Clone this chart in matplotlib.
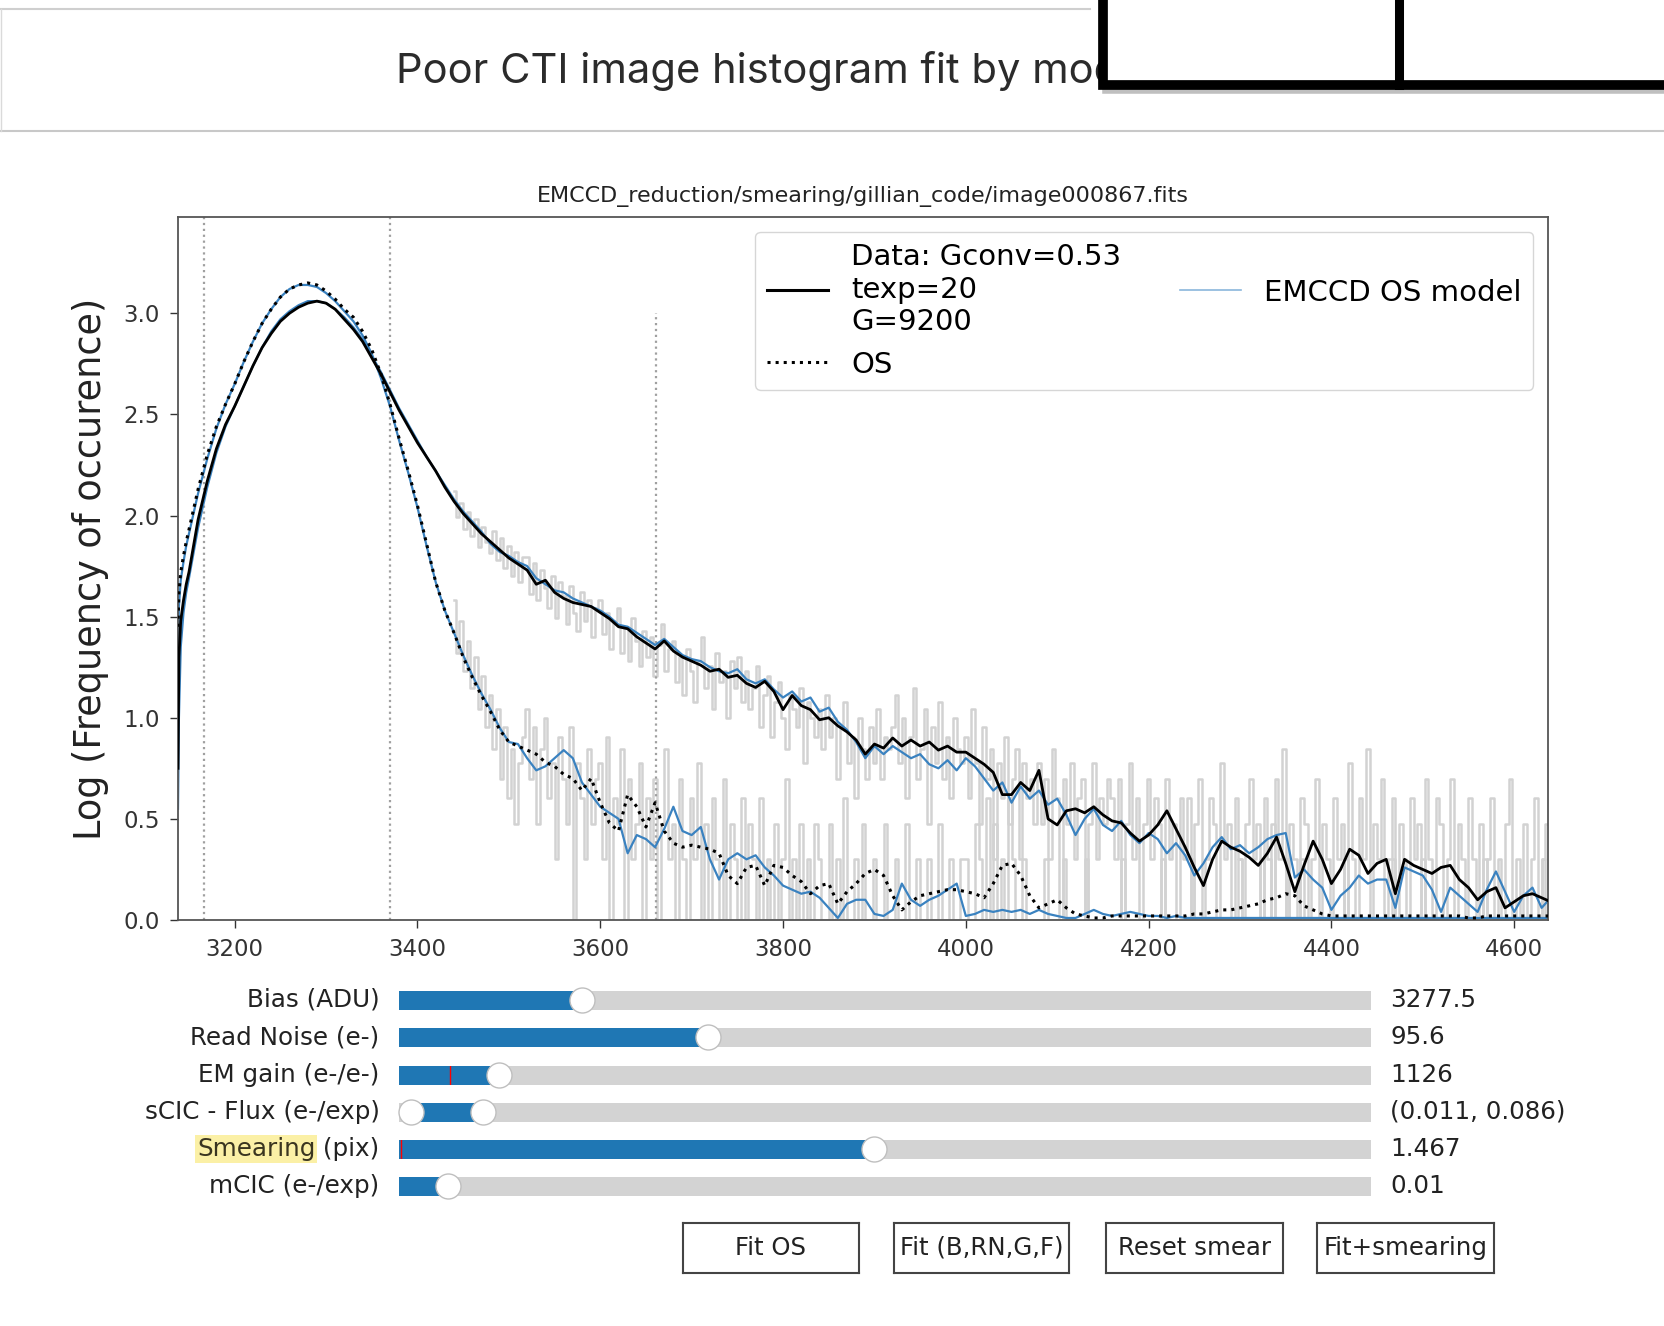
import numpy as np
import matplotlib
matplotlib.use("Agg")
import matplotlib.pyplot as plt
from matplotlib.widgets import Slider, RangeSlider, Button
from matplotlib.patches import Rectangle
from matplotlib.lines import Line2D

plt.rcParams["font.family"] = ["DejaVu Sans"]

# ---------------- text ----------------
page_title = "Poor CTI image histogram fit by mode"
axes_title = "EMCCD_reduction/smearing/gillian_code/image000867.fits"
y_label = "Log (Frequency of occurence)"
x_ticks = [3200, 3400, 3600, 3800, 4000, 4200, 4400, 4600]
y_ticks = [0.0, 0.5, 1.0, 1.5, 2.0, 2.5, 3.0]
x_limits = (3138, 4637)
y_limits = (0.0, 3.476)

# ---------------- smoothed curves (x in ADU, y = log10 counts) ----------------
curve_x = [3138, 3139, 3141, 3144, 3147] + list(range(3150, 4650, 10))

data_y = [0.75, 1.30, 1.48, 1.58, 1.66,
          1.72, 1.98, 2.17, 2.33, 2.45, 2.54, 2.64, 2.74, 2.83, 2.90,
          2.96, 3.00, 3.03, 3.05, 3.06, 3.05, 3.02, 2.97, 2.92, 2.86,
          2.78, 2.70, 2.61, 2.52, 2.44, 2.36, 2.29, 2.22, 2.14, 2.07,
          2.01, 1.96, 1.91, 1.87, 1.83, 1.79, 1.76, 1.73, 1.66, 1.68,
          1.62, 1.59, 1.57, 1.56, 1.55, 1.52, 1.49, 1.45, 1.44, 1.40,
          1.37, 1.34, 1.38, 1.33, 1.30, 1.28, 1.26, 1.23, 1.24, 1.20,
          1.21, 1.17, 1.15, 1.18, 1.13, 1.04, 1.11, 1.06, 1.04, 0.99,
          1.00, 0.96, 0.93, 0.89, 0.82, 0.87, 0.85, 0.90, 0.86, 0.89,
          0.86, 0.88, 0.84, 0.86, 0.83, 0.83, 0.80, 0.77, 0.73, 0.62,
          0.62, 0.68, 0.64, 0.74, 0.50, 0.47, 0.54, 0.55, 0.53, 0.56,
          0.52, 0.49, 0.48, 0.43, 0.39, 0.42, 0.47, 0.54, 0.45, 0.36,
          0.26, 0.17, 0.30, 0.39, 0.36, 0.34, 0.31, 0.27, 0.33, 0.41,
          0.28, 0.14, 0.27, 0.39, 0.30, 0.18, 0.25, 0.35, 0.32, 0.23,
          0.28, 0.30, 0.13, 0.30, 0.27, 0.25, 0.23, 0.26, 0.27, 0.20,
          0.16, 0.10, 0.14, 0.16, 0.06, 0.09, 0.12, 0.13, 0.11, 0.09]

data_model_y = [0.55, 1.00, 1.35, 1.52, 1.62,
                1.69, 1.94, 2.14, 2.31, 2.44, 2.54, 2.64, 2.74, 2.83, 2.91,
                2.97, 3.01, 3.04, 3.06, 3.06, 3.05, 3.02, 2.98, 2.93, 2.87,
                2.79, 2.71, 2.62, 2.53, 2.45, 2.37, 2.29, 2.22, 2.15, 2.08,
                2.02, 1.97, 1.92, 1.86, 1.82, 1.80, 1.77, 1.75, 1.69, 1.66,
                1.63, 1.62, 1.59, 1.57, 1.55, 1.53, 1.50, 1.46, 1.45, 1.42,
                1.39, 1.36, 1.39, 1.35, 1.31, 1.29, 1.28, 1.25, 1.23, 1.22,
                1.24, 1.19, 1.17, 1.19, 1.14, 1.10, 1.13, 1.08, 1.10, 1.03,
                1.05, 0.98, 0.94, 0.88, 0.80, 0.86, 0.82, 0.86, 0.83, 0.80,
                0.82, 0.77, 0.75, 0.79, 0.74, 0.80, 0.76, 0.70, 0.64, 0.68,
                0.58, 0.66, 0.60, 0.64, 0.57, 0.60, 0.52, 0.42, 0.50, 0.55,
                0.47, 0.44, 0.49, 0.42, 0.38, 0.43, 0.40, 0.33, 0.38, 0.32,
                0.22, 0.28, 0.36, 0.41, 0.35, 0.37, 0.33, 0.36, 0.40, 0.42,
                0.43, 0.21, 0.25, 0.20, 0.16, 0.05, 0.12, 0.16, 0.22, 0.18,
                0.20, 0.20, 0.06, 0.26, 0.24, 0.22, 0.15, 0.04, 0.16, 0.12,
                0.08, 0.04, 0.15, 0.24, 0.14, 0.04, 0.12, 0.16, 0.06, 0.11]

os_y = [1.45, 1.62, 1.72, 1.80, 1.87,
        1.93, 2.13, 2.30, 2.44, 2.55, 2.65, 2.76, 2.86, 2.95, 3.02,
        3.08, 3.12, 3.14, 3.15, 3.14, 3.11, 3.07, 3.02, 2.98, 2.91,
        2.82, 2.70, 2.55, 2.38, 2.22, 2.05, 1.86, 1.67, 1.53, 1.42,
        1.30, 1.20, 1.11, 1.03, 0.94, 0.88, 0.86, 0.84, 0.82, 0.78,
        0.76, 0.72, 0.70, 0.64, 0.70, 0.58, 0.48, 0.44, 0.62, 0.56,
        0.46, 0.58, 0.44, 0.38, 0.36, 0.37, 0.36, 0.35, 0.33, 0.22,
        0.18, 0.26, 0.27, 0.17, 0.27, 0.26, 0.22, 0.19, 0.13, 0.17,
        0.18, 0.08, 0.14, 0.18, 0.23, 0.25, 0.22, 0.12, 0.05, 0.09,
        0.12, 0.13, 0.14, 0.15, 0.15, 0.14, 0.13, 0.11, 0.18, 0.27,
        0.28, 0.22, 0.12, 0.06, 0.08, 0.10, 0.06, 0.03, 0.02, 0.01,
        0.01, 0.02, 0.02, 0.02, 0.02, 0.02, 0.02, 0.02, 0.02, 0.02,
        0.03, 0.03, 0.04, 0.05, 0.05, 0.06, 0.07, 0.08, 0.10, 0.11,
        0.13, 0.12, 0.07, 0.05, 0.03, 0.02, 0.02, 0.02, 0.02, 0.02,
        0.02, 0.02, 0.02, 0.02, 0.02, 0.02, 0.02, 0.02, 0.02, 0.02,
        0.01, 0.01, 0.02, 0.02, 0.02, 0.02, 0.02, 0.02, 0.02, 0.02]

os_model_y = [1.30, 1.55, 1.68, 1.77, 1.85,
              1.91, 2.11, 2.28, 2.43, 2.55, 2.65, 2.76, 2.86, 2.95, 3.02,
              3.08, 3.12, 3.14, 3.14, 3.13, 3.10, 3.06, 3.01, 2.96, 2.89,
              2.80, 2.68, 2.54, 2.37, 2.21, 2.04, 1.85, 1.67, 1.53, 1.42,
              1.31, 1.21, 1.12, 1.04, 0.95, 0.88, 0.87, 0.80, 0.74, 0.76,
              0.80, 0.84, 0.80, 0.68, 0.62, 0.56, 0.53, 0.50, 0.33, 0.42,
              0.40, 0.36, 0.45, 0.56, 0.44, 0.42, 0.46, 0.30, 0.20, 0.30,
              0.33, 0.30, 0.32, 0.26, 0.22, 0.17, 0.15, 0.13, 0.14, 0.11,
              0.06, 0.01, 0.08, 0.10, 0.10, 0.03, 0.02, 0.05, 0.18, 0.10,
              0.07, 0.10, 0.12, 0.15, 0.18, 0.02, 0.03, 0.05, 0.04, 0.05,
              0.04, 0.05, 0.03, 0.05, 0.03, 0.02, 0.01, 0.01, 0.03, 0.05,
              0.03, 0.02, 0.03, 0.04, 0.03, 0.02, 0.02, 0.01, 0.02, 0.01,
              0.01, 0.01, 0.01, 0.01, 0.01, 0.01, 0.01, 0.01, 0.01, 0.01,
              0.01, 0.01, 0.01, 0.01, 0.01, 0.01, 0.01, 0.01, 0.01, 0.01,
              0.01, 0.01, 0.01, 0.01, 0.01, 0.01, 0.01, 0.01, 0.01, 0.01,
              0.01, 0.01, 0.01, 0.01, 0.01, 0.01, 0.01, 0.01, 0.01, 0.01]

# ---------------- raw histograms (counts per 4-ADU bin) ----------------
raw_x = list(range(3440, 4640, 4))
raw_data_counts = [
    132, 98, 115, 86, 104, 79, 96, 70, 88, 74, 65, 84, 60, 77, 55, 71, 50, 66, 47, 62,
    62, 41, 58, 38, 54, 44, 35, 50, 31, 47, 40, 29, 45, 33, 27, 42, 30, 38, 25, 35,
    38, 26, 33, 22, 30, 35, 21, 28, 19, 31, 24, 18, 27, 20, 25, 16, 23, 29, 17, 22,
    24, 15, 20, 13, 22, 17, 12, 19, 25, 14, 18, 11, 21, 15, 17, 10, 19, 14, 20, 12,
    17, 11, 14, 18, 9, 13, 16, 8, 12, 15, 10, 7, 13, 11, 9, 14, 6, 12, 10, 8,
    11, 7, 13, 8, 10, 5, 9, 12, 6, 8, 4, 10, 7, 5, 9, 6, 11, 5, 8, 7,
    9, 13, 6, 10, 4, 8, 14, 5, 7, 11, 3, 9, 6, 12, 5, 8, 4, 10, 7, 6,
    8, 4, 11, 6, 3, 9, 5, 7, 2, 6, 4, 8, 3, 5, 7, 2, 6, 4, 5, 3,
    6, 3, 5, 2, 7, 4, 1, 5, 3, 6, 2, 4, 5, 1, 3, 6, 2, 4, 3, 5,
    4, 2, 5, 1, 3, 6, 2, 4, 1, 3, 5, 2, 4, 3, 1, 5, 2, 3, 1, 4,
    2, 4, 1, 3, 5, 1, 2, 4, 3, 1, 6, 2, 3, 1, 4, 2, 1, 3, 5, 2,
    3, 1, 4, 2, 1, 5, 2, 7, 1, 3, 2, 1, 4, 3, 1, 2, 5, 1, 3, 2,
    1, 4, 2, 3, 1, 6, 2, 1, 4, 2, 7, 1, 3, 2, 5, 1, 2, 4, 1, 3,
    2, 1, 4, 2, 3, 1, 5, 2, 1, 4, 3, 1, 2, 5, 1, 3, 2, 1, 4, 2,
    1, 3, 1, 2, 4, 1, 2, 1, 3, 5, 1, 2, 1, 3, 1, 2, 4, 1, 2, 3]
raw_os_counts = [
    38, 21, 30, 17, 24, 14, 20, 11, 16, 9, 13, 7, 11, 5, 9, 4, 7, 3, 6, 8,
    11, 5, 9, 3, 7, 10, 4, 6, 2, 8, 5, 3, 9, 1, 6, 4, 2, 7, 3, 5,
    6, 2, 8, 1, 4, 3, 7, 1, 5, 2, 3, 6, 1, 4, 2, 5, 1, 3, 7, 2,
    3, 1, 5, 2, 1, 4, 2, 6, 1, 3, 1, 4, 2, 1, 5, 1, 3, 2, 1, 4,
    1, 3, 2, 1, 4, 1, 2, 1, 3, 1, 2, 5, 1, 2, 1, 3, 1, 2, 1, 3,
    2, 1, 1, 3, 1, 2, 1, 4, 1, 1, 2, 1, 3, 1, 1, 2, 1, 1, 3, 1,
    1, 2, 1, 1, 3, 1, 1, 2, 1, 1, 2, 1, 1, 3, 1, 1, 2, 1, 1, 2,
    2, 1, 1, 3, 2, 1, 4, 1, 3, 1, 2, 1, 4, 2, 1, 1, 2, 1, 1, 1,
    1, 1, 2, 1, 1, 1, 1, 2, 1, 1, 1, 1, 1, 2, 1, 1, 1, 1, 1, 1,
    1, 1, 1, 2, 1, 1, 1, 1, 1, 1, 1, 1, 1, 1, 2, 1, 1, 1, 1, 1,
    1, 1, 2, 1, 1, 1, 1, 1, 1, 1, 1, 1, 1, 1, 1, 2, 1, 1, 1, 1,
    1, 2, 1, 1, 3, 1, 1, 1, 2, 1, 1, 1, 2, 1, 1, 1, 1, 1, 1, 1,
    1, 1, 1, 1, 2, 1, 1, 1, 1, 1, 1, 1, 1, 1, 1, 1, 1, 2, 1, 1,
    1, 1, 1, 1, 1, 2, 1, 1, 1, 1, 1, 1, 1, 1, 1, 1, 1, 1, 1, 1,
    1, 1, 2, 1, 1, 1, 1, 1, 1, 1, 1, 1, 1, 1, 1, 1, 1, 1, 2, 1]

# vertical markers
marker_x = [3166, 3370, 3661]
marker_top = [None, None, 3.0]

legend_labels = ["Data: Gconv=0.53\ntexp=20\nG=9200", "OS", "EMCCD OS model"]

# ---------------- widgets ----------------
slider_labels = ["Bias (ADU)", "Read Noise (e-)", "EM gain (e-/e-)",
                 "sCIC - Flux (e-/exp)", "Smearing (pix)", "mCIC (e-/exp)"]
slider_texts = ["3277.5", "95.6", "1126", "(0.011, 0.086)", "1.467", "0.01"]
slider_pos = [0.188, 0.318, 0.103, (0.012, 0.086), 0.489, 0.050]
slider_init = [0.188, 0.318, 0.052, None, 0.002, 0.050]
button_labels = ["Fit OS", "Fit (B,RN,G,F)", "Reset smear", "Fit+smearing"]

# ---------------- figure ----------------
W, H = 1665, 1326
fig = plt.figure(figsize=(W / 100, H / 100), dpi=100)
fig.patch.set_facecolor("white")


def rect(x0, y0, x1, y1):
    return [x0 / W, 1 - y1 / H, (x1 - x0) / W, (y1 - y0) / H]


# --- page header ---
fig.add_artist(Line2D([0, 1090 / W], [1 - 9 / H] * 2, color="#cfcfcf", lw=1.5))
fig.add_artist(Line2D([0, 1], [1 - 131 / H] * 2, color="#c8c8c8", lw=1.5))
fig.add_artist(Line2D([1 / W] * 2, [1 - 9 / H, 1 - 131 / H], color="#dadada", lw=1))
fig.text(396 / W, 1 - 83 / H, page_title, fontsize=30, family="Inter",
         color="#2b2b2b", va="baseline", ha="left", zorder=2)
fig.add_artist(Line2D([1105 / W, 1], [1 - 91 / H] * 2, color="#000000",
                      alpha=0.25, lw=4, zorder=4))
fig.add_artist(Rectangle((1103 / W, 1 - 85 / H), (1750 - 1103) / W, 140 / H,
                         transform=fig.transFigure, fc="white", ec="black",
                         lw=7, zorder=5))
fig.add_artist(Line2D([1399 / W] * 2, [1, 1 - 85 / H], color="black",
                      lw=6.5, zorder=6))

# --- main axes ---
ax = fig.add_axes(rect(178, 217, 1548, 920))
ax.plot(raw_x, np.log10(raw_os_counts), color="#d2d2d2", lw=1.8,
        drawstyle="steps-mid", zorder=1)
ax.plot(raw_x, np.log10(raw_data_counts), color="#d2d2d2", lw=1.8,
        drawstyle="steps-mid", zorder=1)
for mx, mt in zip(marker_x, marker_top):
    if mt is None:
        ax.axvline(mx, color="#a0a0a0", ls=":", lw=1.6, zorder=1.5)
    else:
        ax.vlines(mx, 0, mt, color="#a0a0a0", ls=":", lw=1.6, zorder=1.5)
ax.plot(curve_x, data_model_y, color="#3a82c0", lw=1.6, zorder=2)
ax.plot(curve_x, os_model_y, color="#3a82c0", lw=1.6, zorder=2)
ax.plot(curve_x, data_y, color="black", lw=2.0, zorder=3)
ax.plot(curve_x, os_y, color="black", ls=":", lw=2.2, zorder=3)

ax.set_xlim(*x_limits)
ax.set_ylim(*y_limits)
ax.set_xticks(x_ticks)
ax.set_yticks(y_ticks)
ax.set_yticklabels([f"{v:.1f}" for v in y_ticks])
ax.tick_params(labelsize=16.5, length=6, width=1, pad=7, colors="#333333")
for sp in ax.spines.values():
    sp.set_color("#555555")
    sp.set_linewidth(1.3)
ax.set_title(axes_title, fontsize=16, color="#222222", pad=11)
ax.set_ylabel(y_label, fontsize=26.4, color="#222222", labelpad=10)

handles = [Line2D([], [], color="black", lw=2.2),
           Line2D([], [], color="black", ls=":", lw=2.2),
           Line2D([], [], color="#8ab6dc", lw=1.2)]
ax.legend(handles, legend_labels, ncol=2, loc="upper right", fontsize=21,
          handlelength=2.1)

# --- sliders ---
row_y = [1000, 1037, 1075, 1112, 1149, 1186]
sliders = []
for i, lab in enumerate(slider_labels):
    sax = fig.add_axes(rect(399, row_y[i] - 19, 1371, row_y[i] + 19))
    pos = slider_pos[i]
    if isinstance(pos, tuple):
        s = RangeSlider(sax, lab, 0.0, 1.0, valinit=pos,
                        handle_style={"size": 18})
    else:
        s = Slider(sax, lab, 0.0, 1.0, valinit=slider_init[i],
                   handle_style={"size": 18})
        s.set_val(pos)
    s.valtext.set_text(slider_texts[i])
    s.label.set_fontsize(17.7)
    s.valtext.set_fontsize(17.7)
    s.label.set_color("#222222")
    s.valtext.set_color("#222222")
    sliders.append(s)

# highlight on "Smearing"
sm = sliders[4]
sm.label.set_text(" (pix)")
sm.ax.annotate("Smearing", xy=(0, 0), xycoords=sm.label, ha="right",
               va="bottom", fontsize=17.7, color="#3a3520",
               bbox=dict(boxstyle="square,pad=0.08", fc="#fbf0a6", ec="none"))

# --- buttons ---
button_x = [(683, 859), (894, 1069), (1106, 1283), (1317, 1494)]
buttons = []
for (x0, x1), lab in zip(button_x, button_labels):
    bax = fig.add_axes(rect(x0, 1223, x1, 1273))
    b = Button(bax, lab, color="white", hovercolor="white")
    b.label.set_fontsize(17.6)
    b.label.set_color("#222222")
    for sp in bax.spines.values():
        sp.set_linewidth(1.5)
        sp.set_edgecolor("#444444")
    buttons.append(b)

fig.savefig("out.png", dpi=100, facecolor="white")
